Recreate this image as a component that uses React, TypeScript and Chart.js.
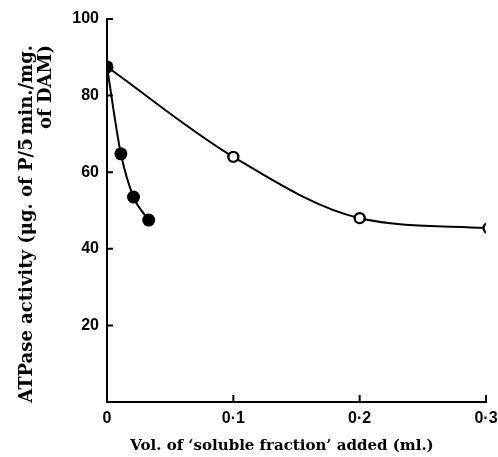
import React, { useEffect, useRef } from "react";
import { Chart, registerables } from "chart.js";

Chart.register(...registerables);

const filledX = [0, 0.011, 0.021, 0.033];
const filledY = [87.5, 64.8, 53.5, 47.5];
const openX = [0, 0.1, 0.2, 0.302];
const openY = [87.5, 64, 48, 45.4];
const xTickValues = [0.1, 0.2, 0.3];
const yTickValues = [20, 40, 60, 80, 100];
const xTitle = "Vol. of \u2018soluble fraction\u2019 added (ml.)";
const yTitleLines = ["ATPase activity (\u03bcg. of P/5\u2009min./mg.", "of DAM)"];

const axisDecor = {
  id: "axisDecor",
  afterDraw(chart: any) {
    const ctx = chart.ctx;
    const xs = chart.scales.x;
    const ys = chart.scales.y;
    const area = chart.chartArea;
    ctx.save();
    ctx.strokeStyle = "#000";
    ctx.lineWidth = 2;
    ctx.beginPath();
    yTickValues.forEach((v) => {
      const py = ys.getPixelForValue(v);
      ctx.moveTo(area.left, py);
      ctx.lineTo(area.left + 6, py);
    });
    xTickValues.forEach((v) => {
      const px = xs.getPixelForValue(v);
      ctx.moveTo(px, area.bottom);
      ctx.lineTo(px, area.bottom - 7);
    });
    ctx.stroke();

    ctx.fillStyle = "#000";
    ctx.font = "bold 15px 'DejaVu Serif'";
    ctx.textAlign = "center";
    ctx.textBaseline = "alphabetic";
    ctx.fillText(xTitle, 282, 450);

    ctx.font = "bold 18px 'DejaVu Serif'";
    ctx.textAlign = "right";
    const baselines = [32, 51];
    yTitleLines.forEach((line, i) => {
      ctx.save();
      ctx.translate(baselines[i], 45);
      ctx.rotate(-Math.PI / 2);
      ctx.fillText(line, 0, 0);
      ctx.restore();
    });
    ctx.restore();
  },
};

export default function App() {
  const ref = useRef<HTMLCanvasElement>(null);
  useEffect(() => {
    if (!ref.current) return;
    const chart = new Chart(ref.current, {
      type: "scatter",
      data: {
        datasets: [
          {
            label: "filled",
            data: filledX.map((x, i) => ({ x, y: filledY[i] })),
            showLine: true,
            borderColor: "#000",
            borderWidth: 2,
            cubicInterpolationMode: "monotone",
            pointRadius: 6.5,
            pointBackgroundColor: "#000",
            pointBorderColor: "#000",
            pointBorderWidth: 0,
          },
          {
            label: "open",
            data: openX.map((x, i) => ({ x, y: openY[i] })),
            showLine: true,
            borderColor: "#000",
            borderWidth: 2,
            cubicInterpolationMode: "monotone",
            pointRadius: openX.map((_, i) => (i === 0 ? 0 : 5)),
            pointBackgroundColor: "#fff",
            pointBorderColor: "#000",
            pointBorderWidth: 2.4,
          },
        ],
      },
      options: {
        animation: false,
        responsive: false,
        events: [],
        layout: { padding: { top: 19, right: 0, left: 0, bottom: 0 } },
        plugins: { legend: { display: false }, tooltip: { enabled: false } },
        scales: {
          x: {
            type: "linear",
            min: 0,
            max: 0.3,
            afterFit: (s: any) => {
              s.height = 55;
              s.paddingRight = 12;
            },
            grid: { display: false, drawTicks: false },
            border: { display: true, color: "#000", width: 2 },
            ticks: {
              stepSize: 0.1,
              padding: 7,
              color: "#000",
              maxRotation: 0,
              font: { family: "'Liberation Sans'", size: 16, weight: "bold" },
              callback: (v: any) => (Math.abs(v) < 1e-9 ? "0" : "0\u00b7" + Math.round(v * 10)),
            },
          },
          y: {
            type: "linear",
            min: 0,
            max: 100,
            afterFit: (s: any) => {
              s.width = 107;
            },
            grid: { display: false, drawTicks: false },
            border: { display: true, color: "#000", width: 2 },
            ticks: {
              stepSize: 20,
              padding: 8,
              color: "#000",
              font: { family: "'Liberation Sans'", size: 16, weight: "bold" },
              callback: (v: any) => (v === 0 ? "" : String(v)),
            },
          },
        },
      },
      plugins: [axisDecor],
    });
    return () => chart.destroy();
  }, []);
  return (
    <div style={{ position: "absolute", left: 0, top: 0, width: 498, height: 457, background: "#fff" }}>
      <canvas ref={ref} width={498} height={457} />
    </div>
  );
}
